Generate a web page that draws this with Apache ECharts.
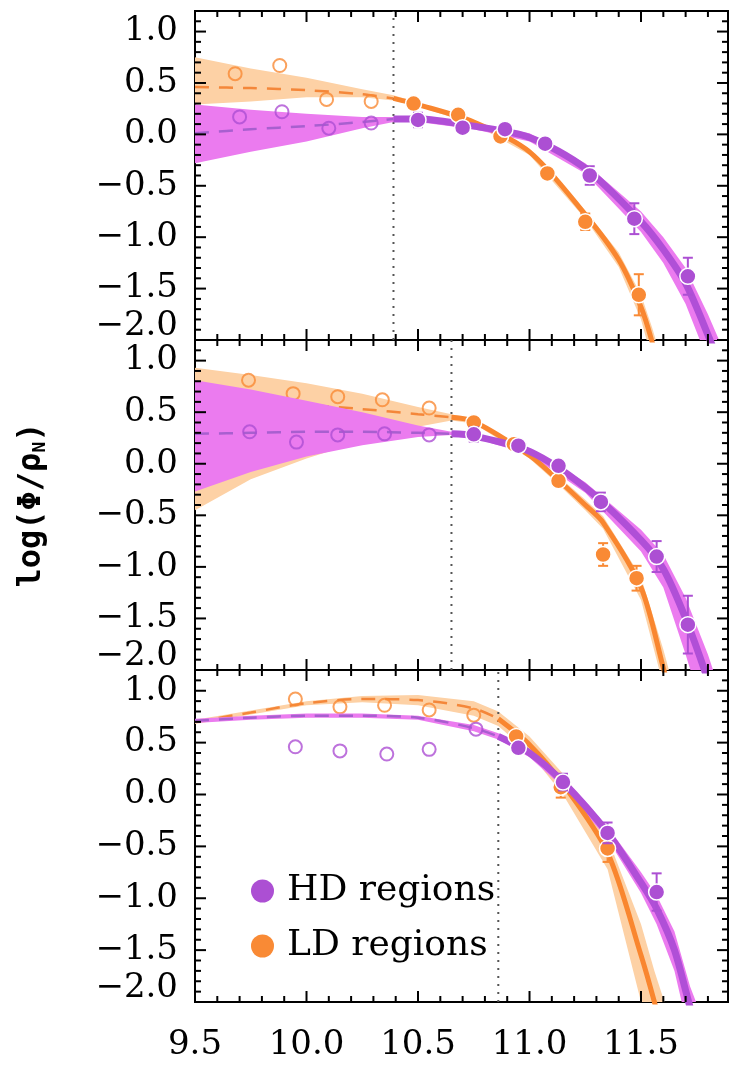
<!DOCTYPE html>
<html>
<head>
<meta charset="utf-8">
<script src="https://cdn.jsdelivr.net/npm/echarts@6/dist/echarts.min.js"></script>
<style>
  html, body { margin: 0; padding: 0; background: #fff; }
  #chart { width: 733px; height: 1065px; }
</style>
</head>
<body>
<div id="chart"></div>
<script>
// ---- axis ticks -------------------------------------------------------
const xMajor = [9.5, 10.0, 10.5, 11.0, 11.5];
const xMinor = [9.6, 9.7, 9.8, 9.9, 10.1, 10.2, 10.3, 10.4, 10.6, 10.7, 10.8, 10.9,
                11.1, 11.2, 11.3, 11.4, 11.6, 11.7, 11.8];
const yMajor = [-2.0, -1.5, -1.0, -0.5, 0.0, 0.5, 1.0];
const yMinor = [-1.9, -1.8, -1.7, -1.6, -1.4, -1.3, -1.2, -1.1, -0.9, -0.8, -0.7, -0.6,
                -0.4, -0.3, -0.2, -0.1, 0.1, 0.2, 0.3, 0.4, 0.6, 0.7, 0.8, 0.9, 1.1];

// ---- panel 1 ----------------------------------------------------------
const p1Limit = 10.39;
const p1HdOpenX = [9.70, 9.89, 10.10, 10.29];
const p1HdOpenY = [0.17, 0.22, 0.06, 0.11];
const p1HdX = [10.50, 10.70, 10.89, 11.07, 11.27, 11.47, 11.71];
const p1HdY = [0.14, 0.065, 0.05, -0.09, -0.40, -0.82, -1.38];
const p1HdErr = [0.07, 0.05, 0.04, 0.05, 0.09, 0.15, 0.18];
const p1LdOpenX = [9.68, 9.88, 10.09, 10.29];
const p1LdOpenY = [0.59, 0.67, 0.34, 0.32];
const p1LdX = [10.48, 10.68, 10.87, 11.08, 11.25, 11.49];
const p1LdY = [0.30, 0.19, -0.02, -0.38, -0.85, -1.56];
const p1LdErr = [0.04, 0.04, 0.04, 0.05, 0.08, 0.20];
const p1HdFitX = [9.5, 9.75, 10.0, 10.25, 10.39, 10.5, 10.75, 11.0, 11.25, 11.5, 11.6, 11.7, 11.8, 11.9];
const p1HdFit  = [0.01, 0.05, 0.08, 0.12, 0.15, 0.15, 0.08, -0.03, -0.33, -0.85, -1.12, -1.45, -1.95, -2.5];
const p1HdLo   = [-0.28, -0.17, -0.07, 0.06, 0.12, 0.12, 0.05, -0.07, -0.38, -0.95, -1.25, -1.65, -2.2, -2.8];
const p1HdHi   = [0.29, 0.24, 0.20, 0.17, 0.17, 0.17, 0.11, 0.01, -0.28, -0.75, -1.0, -1.3, -1.75, -2.25];
const p1LdFitX = [9.5, 9.75, 10.0, 10.25, 10.39, 10.5, 10.75, 11.0, 11.25, 11.4, 11.5, 11.55, 11.6];
const p1LdFit  = [0.46, 0.45, 0.43, 0.39, 0.35, 0.29, 0.12, -0.17, -0.78, -1.22, -1.68, -2.02, -2.45];
const p1LdLo   = [0.29, 0.32, 0.36, 0.36, 0.33, 0.27, 0.10, -0.20, -0.82, -1.29, -1.80, -2.2, -2.7];
const p1LdHi   = [0.75, 0.64, 0.55, 0.44, 0.38, 0.31, 0.14, -0.14, -0.74, -1.15, -1.56, -1.88, -2.25];

// ---- panel 2 ----------------------------------------------------------
const p2Limit = 10.65;
const p2HdOpenX = [9.745, 9.955, 10.14, 10.35, 10.55];
const p2HdOpenY = [0.31, 0.21, 0.28, 0.29, 0.28];
const p2HdX = [10.75, 10.95, 11.13, 11.32, 11.57, 11.71];
const p2HdY = [0.285, 0.175, -0.02, -0.37, -0.90, -1.56];
const p2HdErr = [0.07, 0.05, 0.05, 0.09, 0.15, 0.28];
const p2LdOpenX = [9.74, 9.94, 10.14, 10.34, 10.55];
const p2LdOpenY = [0.81, 0.68, 0.65, 0.62, 0.54];
const p2LdX = [10.75, 10.93, 11.13, 11.33, 11.48];
const p2LdY = [0.40, 0.19, -0.165, -0.88, -1.11];
const p2LdErr = [0.04, 0.04, 0.05, 0.11, 0.12];
const p2HdFitX = [9.5, 9.75, 10.0, 10.25, 10.5, 10.65, 10.75, 11.0, 11.25, 11.5, 11.6, 11.7, 11.8, 11.9];
const p2HdFit  = [0.29, 0.30, 0.31, 0.31, 0.30, 0.29, 0.27, 0.12, -0.23, -0.74, -1.02, -1.5, -2.1, -2.8];
const p2HdLo   = [-0.27, -0.08, 0.07, 0.18, 0.26, 0.28, 0.25, 0.09, -0.28, -0.85, -1.2, -1.85, -2.55, -3.3];
const p2HdHi   = [0.81, 0.72, 0.61, 0.50, 0.37, 0.31, 0.29, 0.15, -0.18, -0.64, -0.88, -1.3, -1.85, -2.5];
const p2LdFitX = [9.5, 9.75, 10.0, 10.25, 10.5, 10.65, 10.75, 11.0, 11.13, 11.25, 11.33, 11.5, 11.6, 11.65];
const p2LdFit  = [0.62, 0.60, 0.57, 0.53, 0.48, 0.45, 0.41, 0.08, -0.16, -0.40, -0.57, -1.20, -1.98, -2.4];
const p2LdLo   = [-0.45, -0.15, 0.05, 0.22, 0.36, 0.42, 0.39, 0.05, -0.20, -0.45, -0.63, -1.32, -2.15, -2.6];
const p2LdHi   = [0.93, 0.86, 0.78, 0.68, 0.55, 0.48, 0.43, 0.11, -0.12, -0.35, -0.51, -1.10, -1.8, -2.2];

// ---- panel 3 ----------------------------------------------------------
const p3Limit = 10.86;
const p3HdOpenX = [9.95, 10.15, 10.36, 10.55, 10.76];
const p3HdOpenY = [0.46, 0.42, 0.39, 0.435, 0.63];
const p3HdX = [10.95, 11.15, 11.35, 11.57];
const p3HdY = [0.45, 0.12, -0.37, -0.94];
const p3HdErr = [0.05, 0.08, 0.10, 0.18];
const p3LdOpenX = [9.95, 10.15, 10.35, 10.55, 10.75];
const p3LdOpenY = [0.92, 0.845, 0.86, 0.815, 0.765];
const p3LdX = [10.94, 11.14, 11.35];
const p3LdY = [0.56, 0.07, -0.52];
const p3LdErr = [0.04, 0.10, 0.13];
const p3HdFitX = [9.5, 9.75, 10.0, 10.25, 10.5, 10.75, 10.86, 11.0, 11.15, 11.35, 11.5, 11.57, 11.65, 11.72, 11.8];
const p3HdFit  = [0.71, 0.74, 0.76, 0.76, 0.74, 0.64, 0.56, 0.40, 0.12, -0.37, -0.85, -1.1, -1.5, -2.05, -2.6];
const p3HdLo   = [0.69, 0.72, 0.74, 0.74, 0.72, 0.61, 0.53, 0.36, 0.07, -0.43, -0.95, -1.25, -1.7, -2.35, -3.0];
const p3HdHi   = [0.73, 0.76, 0.78, 0.78, 0.76, 0.67, 0.59, 0.44, 0.17, -0.31, -0.75, -0.97, -1.32, -1.85, -2.3];
const p3LdFitX = [9.5, 9.75, 10.0, 10.25, 10.5, 10.75, 10.86, 11.0, 11.15, 11.35, 11.5, 11.56, 11.62];
const p3LdFit  = [0.70, 0.79, 0.88, 0.92, 0.91, 0.83, 0.73, 0.48, 0.10, -0.56, -1.55, -2.0, -2.5];
const p3LdLo   = [0.68, 0.77, 0.86, 0.89, 0.86, 0.76, 0.66, 0.40, 0.0, -0.72, -2.0, -2.55, -3.2];
const p3LdHi   = [0.72, 0.81, 0.90, 0.95, 0.96, 0.90, 0.80, 0.56, 0.20, -0.42, -1.25, -1.7, -2.1];

// ---- styling ----------------------------------------------------------
const FONT = 'DejaVu Serif';
const X_MIN = 9.5, X_MAX = 11.89, Y_MIN = -2.0, Y_MAX = 1.2;
const GRID_TOPS = [11, 340, 670];
const GRID_HEIGHTS = [329, 330, 332];
const TICK_MAJOR = 11, TICK_MINOR = 6;
const HD = { point: '#ac4fd3', line: '#b04fd7', dash: '#a85fcf', band: '#eb7bef' };
const LD = { point: '#f98a35', line: '#f9862f', dash: '#f4873a', band: '#fdd1a5' };

const panels = [
  { limit: p1Limit,
    hd: { openX: p1HdOpenX, openY: p1HdOpenY, x: p1HdX, y: p1HdY, err: p1HdErr, fitX: p1HdFitX, fit: p1HdFit, lo: p1HdLo, hi: p1HdHi },
    ld: { openX: p1LdOpenX, openY: p1LdOpenY, x: p1LdX, y: p1LdY, err: p1LdErr, fitX: p1LdFitX, fit: p1LdFit, lo: p1LdLo, hi: p1LdHi } },
  { limit: p2Limit,
    hd: { openX: p2HdOpenX, openY: p2HdOpenY, x: p2HdX, y: p2HdY, err: p2HdErr, fitX: p2HdFitX, fit: p2HdFit, lo: p2HdLo, hi: p2HdHi },
    ld: { openX: p2LdOpenX, openY: p2LdOpenY, x: p2LdX, y: p2LdY, err: p2LdErr, fitX: p2LdFitX, fit: p2LdFit, lo: p2LdLo, hi: p2LdHi } },
  { limit: p3Limit,
    hd: { openX: p3HdOpenX, openY: p3HdOpenY, x: p3HdX, y: p3HdY, err: p3HdErr, fitX: p3HdFitX, fit: p3HdFit, lo: p3HdLo, hi: p3HdHi },
    ld: { openX: p3LdOpenX, openY: p3LdOpenY, x: p3LdX, y: p3LdY, err: p3LdErr, fitX: p3LdFitX, fit: p3LdFit, lo: p3LdLo, hi: p3LdHi } }
];

const zip = (xs, ys) => xs.map((x, i) => [x, ys[i]]);

function fmtY(v) {
  const s = (v < 0 ? '\u2212' : '') + Math.abs(v).toFixed(1);
  return v === -2 ? '{lo|' + s + '}' : s;
}

// ---- grids and axes (labels on the axes, frame ticks drawn below) -----
const grids = [], xAxes = [], yAxes = [];
panels.forEach((p, g) => {
  grids.push({ left: 195, width: 533, top: GRID_TOPS[g], height: GRID_HEIGHTS[g],
    show: true, borderColor: '#000', borderWidth: 2, backgroundColor: 'transparent' });
  xAxes.push({
    type: 'value', gridIndex: g, position: 'bottom', min: X_MIN, max: X_MAX,
    axisLine: { show: false, onZero: false }, splitLine: { show: false }, axisTick: { show: false },
    axisLabel: { show: g === 2, customValues: xMajor, margin: 26, fontFamily: FONT,
      fontSize: 34, color: '#000', formatter: v => v.toFixed(1) }
  });
  const ya = {
    type: 'value', gridIndex: g, position: 'left', min: Y_MIN, max: Y_MAX,
    axisLine: { show: false, onZero: false }, splitLine: { show: false }, axisTick: { show: false },
    axisLabel: { show: true, customValues: yMajor, margin: 17, fontFamily: FONT, fontSize: 34,
      color: '#000', formatter: fmtY,
      rich: { lo: { fontFamily: FONT, fontSize: 34, color: '#000', padding: [0, 0, 28, 0] } } }
  };
  if (g === 1) {
    ya.name = '{a|log(\u03A6/\u03C1}{s|N}{a|)}';
    ya.nameLocation = 'middle';
    ya.nameRotate = 90;
    ya.nameGap = 146;
    ya.nameTextStyle = { rich: {
      a: { fontFamily: 'DejaVu Sans Mono', fontWeight: 'bold', fontSize: 32, color: '#000' },
      s: { fontFamily: 'DejaVu Sans Mono', fontWeight: 'bold', fontSize: 18, color: '#000', padding: [16, 0, 0, 0] }
    } };
  }
  yAxes.push(ya);
});

// ---- series builders --------------------------------------------------
const AX = g => ({ xAxisIndex: g, yAxisIndex: g });

// inward ticks on all four sides of a panel, placed through the axis scales
function tickSeries(g) {
  const rows = [];
  xMajor.forEach(v => rows.push([v, 0, 1]));
  xMinor.forEach(v => rows.push([v, 0, 0]));
  yMajor.forEach(v => rows.push([v, 1, 1]));
  yMinor.forEach(v => rows.push([v, 1, 0]));
  return Object.assign({
    type: 'custom', silent: true, z: 20, data: rows,
    renderItem(params, api) {
      const v = api.value(0), isY = api.value(1) === 1;
      const len = api.value(2) === 1 ? TICK_MAJOR : TICK_MINOR;
      const cs = params.coordSys;
      const st = { stroke: '#000', lineWidth: 2 };
      if (!isY) {
        const x = api.coord([v, Y_MIN])[0];
        const b = cs.y + cs.height, t = cs.y;
        return { type: 'group', children: [
          { type: 'line', shape: { x1: x, y1: b, x2: x, y2: b - len }, style: st },
          { type: 'line', shape: { x1: x, y1: t, x2: x, y2: t + len }, style: st }
        ] };
      }
      const y = api.coord([X_MIN, v])[1];
      const l = cs.x, r = cs.x + cs.width;
      return { type: 'group', children: [
        { type: 'line', shape: { x1: l, y1: y, x2: l + len, y2: y }, style: st },
        { type: 'line', shape: { x1: r, y1: y, x2: r - len, y2: y }, style: st }
      ] };
    }
  }, AX(g));
}

function bandSeries(g, xs, lo, hi, color, z) {
  return Object.assign({
    type: 'custom', clip: true, silent: true, z,
    data: xs.map((x, i) => [x, lo[i], hi[i]]),
    renderItem(params, api) {
      if (params.dataIndex !== 0) return null;
      const pts = [];
      for (let i = 0; i < xs.length; i++) pts.push(api.coord([xs[i], hi[i]]));
      for (let i = xs.length - 1; i >= 0; i--) pts.push(api.coord([xs[i], lo[i]]));
      return { type: 'polygon', shape: { points: pts }, style: { fill: color } };
    }
  }, AX(g));
}

function lineSeries(g, data, color, width, dashed, z) {
  return Object.assign({
    type: 'line', data, showSymbol: false, smooth: 0.3, clip: true, silent: true, z,
    lineStyle: { color, width, type: dashed ? [14, 10] : 'solid', cap: 'butt' }
  }, AX(g));
}

function errSeries(g, xs, ys, es, color, z) {
  return Object.assign({
    type: 'custom', silent: true, z,
    data: xs.map((x, i) => [x, ys[i], es[i]]),
    renderItem(params, api) {
      const x = api.value(0), y = api.value(1), e = api.value(2);
      const t = api.coord([x, y + e]), b = api.coord([x, y - e]);
      const hw = 5;
      const st = { stroke: color, lineWidth: 2 };
      return { type: 'group', children: [
        { type: 'line', shape: { x1: t[0], y1: t[1], x2: b[0], y2: b[1] }, style: st },
        { type: 'line', shape: { x1: t[0] - hw, y1: t[1], x2: t[0] + hw, y2: t[1] }, style: st },
        { type: 'line', shape: { x1: b[0] - hw, y1: b[1], x2: b[0] + hw, y2: b[1] }, style: st }
      ] };
    }
  }, AX(g));
}

function openSeries(g, xs, ys, color, z) {
  return Object.assign({
    type: 'scatter', data: zip(xs, ys), silent: true, z,
    symbol: 'circle', symbolSize: 13,
    itemStyle: { color: 'rgba(0,0,0,0)', borderColor: color, borderWidth: 2 }
  }, AX(g));
}

function filledSeries(g, name, xs, ys, color, z) {
  return Object.assign({
    type: 'scatter', name, data: zip(xs, ys), silent: true, z,
    symbol: 'circle', symbolSize: 16,
    itemStyle: { color, borderColor: '#fff', borderWidth: 1.5, opacity: 1 }
  }, AX(g));
}

const series = [];
panels.forEach((p, g) => {
  const hd = p.hd, ld = p.ld;
  const below = (xs, ys) => zip(xs, ys).filter(d => d[0] <= p.limit);
  const above = (xs, ys) => zip(xs, ys).filter(d => d[0] >= p.limit);
  // low-density (orange) band, extrapolated fit and incomplete bins
  series.push(bandSeries(g, ld.fitX, ld.lo, ld.hi, LD.band, 1));
  series.push(lineSeries(g, below(ld.fitX, ld.fit), LD.dash, 2.5, true, 3));
  series.push(openSeries(g, ld.openX, ld.openY, LD.point, 4));
  // high-density (purple) band, extrapolated fit and incomplete bins
  series.push(bandSeries(g, hd.fitX, hd.lo, hd.hi, HD.band, 5));
  series.push(lineSeries(g, below(hd.fitX, hd.fit), HD.dash, 2.5, true, 6));
  series.push(openSeries(g, hd.openX, hd.openY, HD.point, 7));
  // fitted curves above the completeness limit
  series.push(lineSeries(g, above(ld.fitX, ld.fit), LD.line, 5, false, 8));
  series.push(lineSeries(g, above(hd.fitX, hd.fit), HD.line, 7, false, 9));
  // completeness limit
  series.push(Object.assign({
    type: 'line', silent: true, showSymbol: false, z: 2,
    data: [[p.limit, Y_MIN], [p.limit, Y_MAX]],
    lineStyle: { color: '#555', width: 2, type: [2, 6] }
  }, AX(g)));
  // measured bins
  series.push(errSeries(g, ld.x, ld.y, ld.err, LD.point, 10));
  series.push(filledSeries(g, 'LD regions', ld.x, ld.y, LD.point, 11));
  series.push(errSeries(g, hd.x, hd.y, hd.err, HD.point, 12));
  series.push(filledSeries(g, 'HD regions', hd.x, hd.y, HD.point, 13));
  // frame ticks
  series.push(tickSeries(g));
});

const chart = echarts.init(document.getElementById('chart'), null, { renderer: 'canvas' });
chart.setOption({
  animation: false,
  backgroundColor: '#fff',
  grid: grids,
  xAxis: xAxes,
  yAxis: yAxes,
  legend: {
    data: ['HD regions', 'LD regions'], orient: 'vertical', left: 246, top: 868,
    itemWidth: 23, itemHeight: 23, itemGap: 19, icon: 'circle', selectedMode: false,
    itemStyle: { borderWidth: 0 },
    textStyle: { fontFamily: FONT, fontSize: 36, color: '#000', padding: [0, 0, 0, 8] }
  },
  series
});
</script>
</body>
</html>
